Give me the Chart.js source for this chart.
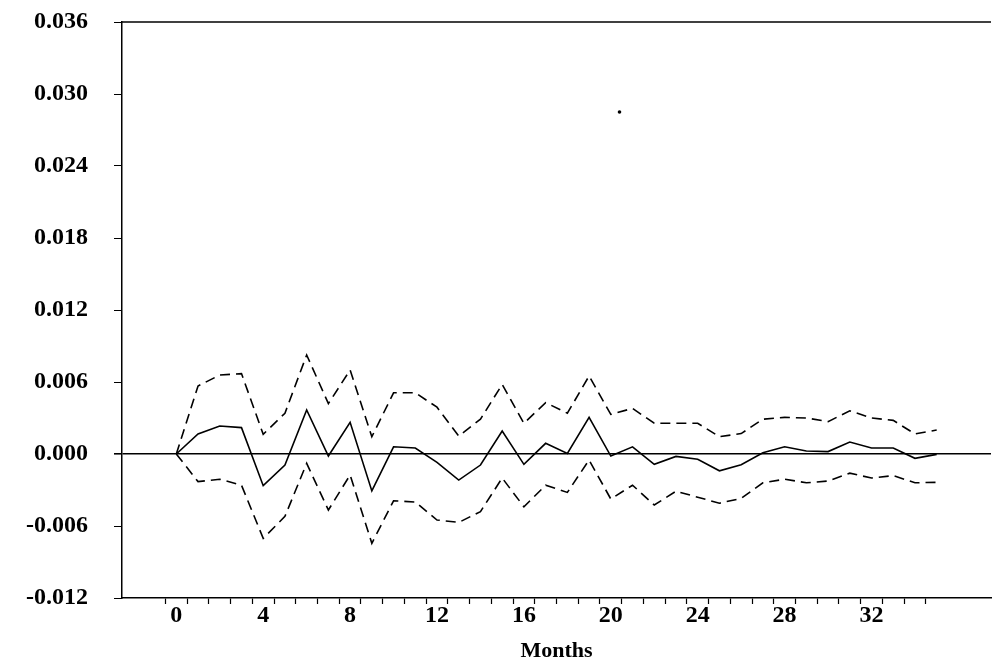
<!DOCTYPE html>
<html>
<head>
<meta charset="utf-8">
<script src="https://cdn.jsdelivr.net/npm/chart.js@4.4.1/dist/chart.umd.min.js"></script>
<style>
  html, body { margin: 0; padding: 0; background: #fff; }
  #wrap { width: 995px; height: 670px; position: relative; }
</style>
</head>
<body>
<div id="wrap"><canvas id="c"></canvas></div>
<script>
const months = [0,1,2,3,4,5,6,7,8,9,10,11,12,13,14,15,16,17,18,19,20,21,22,23,24,25,26,27,28,29,30,31,32,33,34,35];
const response = [0, 0.00167, 0.00233, 0.0022, -0.00264, -0.00092, 0.00367, -0.00017, 0.00264, -0.00308, 0.0006, 0.0005,
  -0.0007, -0.00217, -0.00092, 0.00192, -0.00086, 0.00089, 0.00005, 0.00306, -0.00017, 0.0006, -0.00086, -0.0002,
  -0.00044, -0.0014, -0.0009, 0.0001, 0.0006, 0.00025, 0.0002, 0.001, 0.0005, 0.0005, -0.00036, -0.00003];
const upperBand = [0, 0.00567, 0.00658, 0.0067, 0.00164, 0.0034, 0.00825, 0.0042, 0.007, 0.00144, 0.0051, 0.0051,
  0.0039, 0.0015, 0.0029, 0.0058, 0.00256, 0.00428, 0.0034, 0.0065, 0.0033, 0.0038, 0.00256, 0.00256,
  0.00256, 0.00144, 0.0017, 0.0029, 0.00305, 0.003, 0.0027, 0.0036, 0.003, 0.0028, 0.00167, 0.002];
const lowerBand = [0, -0.0023, -0.0021, -0.0026, -0.00703, -0.0052, -0.00078, -0.00467, -0.00175, -0.00744, -0.0039, -0.004,
  -0.0055, -0.0057, -0.0048, -0.002, -0.0044, -0.0026, -0.0032, -0.0005, -0.00375, -0.0026, -0.00425, -0.0031,
  -0.0036, -0.0041, -0.0037, -0.0024, -0.0021, -0.0024, -0.00225, -0.0016, -0.002, -0.0018, -0.0024, -0.00236];
const strayMark = [{x: 20.4, y: 0.0285}];
const yTicks = [-0.012, -0.006, 0.000, 0.006, 0.012, 0.018, 0.024, 0.030, 0.036];
const xLabelEvery = 4;
const xAxisTitle = 'Months';

const pts = arr => months.map((m, i) => ({x: m, y: arr[i]}));
const FONT = "'Liberation Serif', 'Times New Roman', serif";

const topLine = {
  id: 'topLine',
  afterDraw(chart) {
    const {ctx, chartArea} = chart;
    ctx.save();
    ctx.strokeStyle = '#000';
    ctx.lineWidth = 1.5;
    ctx.beginPath();
    ctx.moveTo(chartArea.left, chartArea.top);
    ctx.lineTo(chartArea.right, chartArea.top);
    ctx.stroke();
    ctx.restore();
  }
};

new Chart(document.getElementById('c'), {
  type: 'line',
  data: {
    datasets: [
      { data: pts(upperBand), borderColor: '#000', borderWidth: 1.6, borderDash: [10, 6], pointRadius: 0, tension: 0, fill: false },
      { data: pts(response), borderColor: '#000', borderWidth: 1.6, pointRadius: 0, tension: 0, fill: false },
      { data: pts(lowerBand), borderColor: '#000', borderWidth: 1.6, borderDash: [10, 6], pointRadius: 0, tension: 0, fill: false },
      { type: 'scatter', data: strayMark, pointRadius: 1.8, pointBackgroundColor: '#000', pointBorderWidth: 0 }
    ]
  },
  options: {
    responsive: true,
    maintainAspectRatio: false,
    animation: false,
    devicePixelRatio: 1,
    layout: { padding: { left: 0, right: -4, top: 22, bottom: 0 } },
    plugins: { legend: { display: false }, tooltip: { enabled: false } },
    scales: {
      x: {
        type: 'linear',
        min: -2.5,
        max: 37.5,
        afterBuildTicks(scale) {
          const t = [];
          for (let v = -2.5; v <= 37.5 + 1e-9; v += 0.5) t.push({value: Math.round(v * 2) / 2});
          scale.ticks = t;
        },
        afterFit(scale) { scale.height = 72; scale.paddingLeft = 0; scale.paddingRight = 0; },
        border: { display: true, color: '#000', width: 1.5 },
        grid: {
          drawOnChartArea: false,
          drawTicks: true,
          tickLength: 6,
          tickWidth: 1.2,
          tickColor: ctx => {
            const v = ctx.tick ? ctx.tick.value : 0;
            return (Math.abs(v % 1) === 0.5 && v >= -0.5 && v <= 34.5) ? '#000' : 'rgba(0,0,0,0)';
          }
        },
        ticks: {
          autoSkip: false,
          maxRotation: 0,
          padding: -3,
          color: '#000',
          font: { family: FONT, size: 24, weight: 'bold' },
          callback: v => (v >= 0 && v <= 32 && v % xLabelEvery === 0) ? String(v) : ''
        },
        title: { display: true, text: xAxisTitle, color: '#000', font: { family: FONT, size: 22, weight: 'bold' }, padding: { top: 0, bottom: 5 } }
      },
      y: {
        min: -0.012,
        max: 0.036,
        afterBuildTicks(scale) { scale.ticks = yTicks.map(v => ({value: v})); },
        afterFit(scale) { scale.width = 122; scale.paddingTop = 0; scale.paddingBottom = 0; },
        border: { display: true, color: '#000', width: 1.5 },
        grid: {
          drawOnChartArea: true,
          drawTicks: true,
          tickLength: 8,
          tickColor: '#000',
          color: ctx => (ctx.tick && Math.abs(ctx.tick.value) < 1e-9) ? '#000' : 'rgba(0,0,0,0)',
          lineWidth: ctx => (ctx.tick && Math.abs(ctx.tick.value) < 1e-9) ? 1.6 : 1
        },
        ticks: {
          padding: 26,
          color: '#000',
          font: { family: FONT, size: 24, weight: 'bold' },
          callback: v => v.toFixed(3)
        }
      }
    }
  },
  plugins: [topLine]
});
</script>
</body>
</html>
